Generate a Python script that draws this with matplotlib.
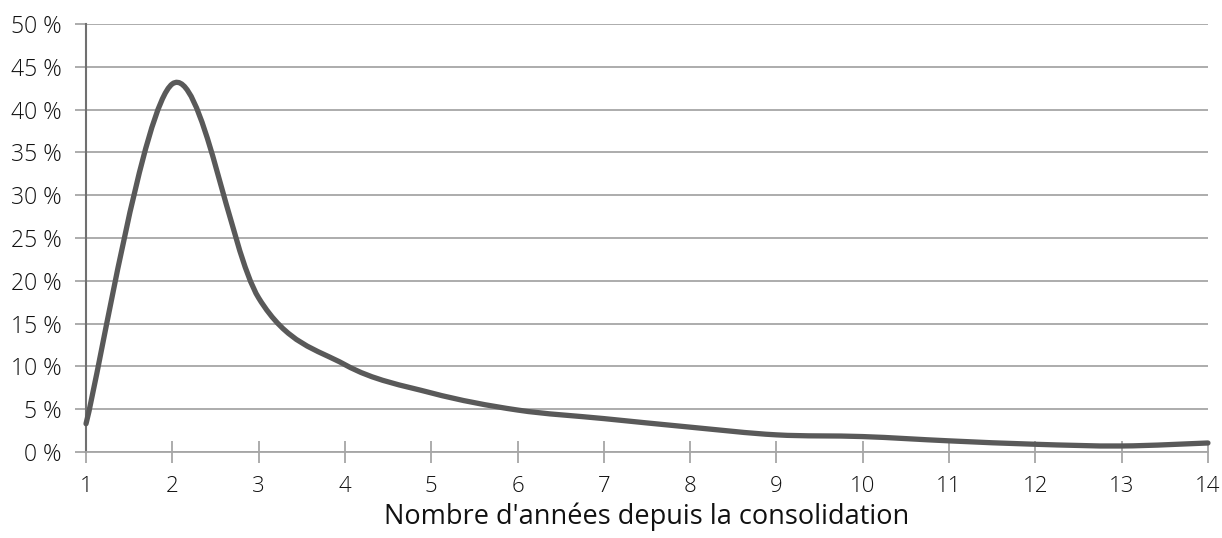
import numpy as np
import matplotlib.pyplot as plt
from matplotlib.path import Path
from matplotlib.patches import PathPatch
from matplotlib.ticker import FuncFormatter

plt.rcParams['font.family'] = ['Open Sans', 'DejaVu Sans']
plt.rcParams['font.weight'] = 'light'

annees = [1, 2, 3, 4, 5, 6, 7, 8, 9, 10, 11, 12, 13, 14]
part = [3.3, 43.0, 18.0, 10.2, 6.9, 4.9, 3.9, 2.9, 2.0, 1.8, 1.3, 0.9, 0.7, 1.05]


def smooth_path(x, y):
    # Excel-like smoothed line: cubic Bezier through points (Catmull-Rom)
    x = np.asarray(x, float)
    y = np.asarray(y, float)
    n = len(x)
    verts = [(x[0], y[0])]
    codes = [Path.MOVETO]
    for i in range(n - 1):
        i0 = max(i - 1, 0)
        i3 = min(i + 2, n - 1)
        c1 = (x[i] + (x[i + 1] - x[i0]) / 6, y[i] + (y[i + 1] - y[i0]) / 6)
        c2 = (x[i + 1] - (x[i3] - x[i]) / 6, y[i + 1] - (y[i3] - y[i]) / 6)
        verts += [c1, c2, (x[i + 1], y[i + 1])]
        codes += [Path.CURVE4] * 3
    return Path(verts, codes)


fig = plt.figure(figsize=(12.22, 5.38), dpi=100)
ax = fig.add_axes([0.0704, 0.1599, 0.9181, 0.7955])

grid_col = '#a6a6a6'
ax.set_xlim(1, 14)
ax.set_ylim(0, 50)
ax.set_yticks(np.arange(0, 51, 5))
ax.yaxis.set_major_formatter(FuncFormatter(lambda v, p: '%d %%' % v))
ax.set_xticks(annees)
ax.grid(axis='y', color=grid_col, linewidth=1.3, zorder=0)
for s in ['top', 'right']:
    ax.spines[s].set_visible(False)
ax.spines['left'].set_color('#707070')
ax.spines['left'].set_linewidth(1.5)
ax.spines['bottom'].set_color(grid_col)
ax.spines['bottom'].set_linewidth(1.3)
ax.tick_params(axis='y', length=8, width=1.3, color=grid_col, labelsize=16.5, labelcolor='#111111', pad=9.5)
ax.tick_params(axis='x', direction='inout', length=16, width=1.3, color=grid_col,
               labelsize=16, labelcolor='#111111', pad=9)

patch = PathPatch(smooth_path(annees, part), facecolor='none', edgecolor='#595959',
                  linewidth=3.8, capstyle='round', joinstyle='round', zorder=3,
                  clip_on=False)
ax.add_patch(patch)

ax.set_xlabel("Nombre d'années depuis la consolidation", fontsize=19.5, color='#111111',
              labelpad=4)

fig.savefig('out.png', dpi=100)
